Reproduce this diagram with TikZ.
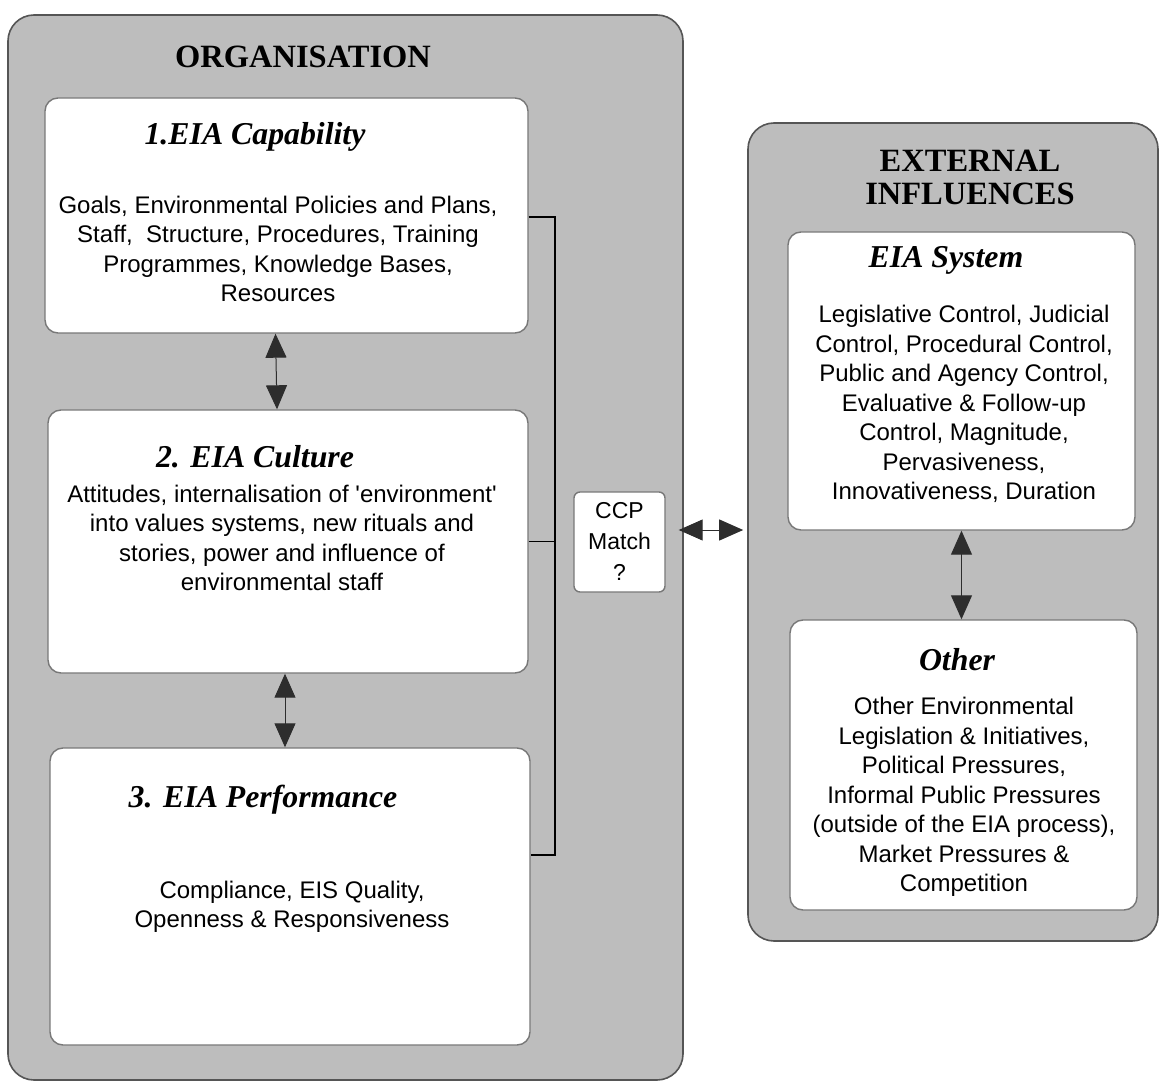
\documentclass[tikz,border=0pt]{standalone}
\usepackage{fontspec}
\setmainfont{Liberation Serif}
\setsansfont{Liberation Sans}
\usetikzlibrary{arrows.meta,calc}
\definecolor{panelfill}{RGB}{189,189,189}
\definecolor{paneledge}{RGB}{85,85,85}
\definecolor{boxedge}{RGB}{120,120,120}
\definecolor{headfill}{RGB}{45,45,45}
\begin{document}
\begin{tikzpicture}[x=1pt,y=-1pt,
  panel/.style={draw=paneledge,fill=panelfill,line width=1.6pt,rounded corners=26pt,
    inner sep=0pt,minimum width=#1},
  whitebox/.style={draw=boxedge,fill=white,line width=1.4pt,rounded corners=13pt,inner sep=0pt},
  paneltitle/.style={font=\bfseries\fontsize{32.5}{33}\selectfont,align=center,inner sep=0pt},
  boxtitle/.style={font=\bfseries\itshape\fontsize{31.8}{34}\selectfont,inner sep=0pt},
  body/.style={font=\sffamily\fontsize{24}{29.5}\selectfont,align=center,inner sep=0pt},
  biarrow/.style={line width=1pt,draw=headfill,
    {Triangle[width=21pt,length=24pt,fill=headfill]}-{Triangle[width=21pt,length=24pt,fill=headfill]}},
  bracket/.style={line width=1.4pt,draw=black}]
\useasboundingbox (0,0) rectangle (1160,1083);

% outer panels
\node[panel=675pt,minimum height=1065pt] (org) at (345.5,547.5) {};
\node[panel=410pt,minimum height=818pt] (ext) at (953,532) {};
\node[paneltitle] (orgT) at (303,57) {ORGANISATION};
\node[paneltitle] (extT) at (970,177) {EXTERNAL\\INFLUENCES};

% organisation boxes
\node[whitebox,minimum width=483pt,minimum height=235pt] (b1) at (286.5,215.5) {};
\node[whitebox,minimum width=480pt,minimum height=263pt] (b2) at (288,541.5) {};
\node[whitebox,minimum width=480pt,minimum height=297pt] (b3) at (290,896.5) {};

\node[boxtitle] (b1T) at (255,137) {1.EIA Capability};
\node[body] (b1B) at (278,249) {Goals, Environmental Policies and Plans,\\
  Staff,\ \ Structure, Procedures, Training\\Programmes, Knowledge Bases,\\Resources};

\node[boxtitle] (b2T) at (255,457) {2. EIA Culture};
\node[body] (b2B) at (282,538) {Attitudes, internalisation of \textquotesingle environment\textquotesingle\\
  into values systems, new rituals and\\stories, power and influence of\\environmental staff};

\node[boxtitle] (b3T) at (263,800) {3. EIA Performance};
\node[body] (b3B) at (292,907) {Compliance, EIS Quality,\\Openness \& Responsiveness};

% external influence boxes
\node[whitebox,minimum width=347pt,minimum height=298pt] (sys) at (961.5,381) {};
\node[whitebox,minimum width=347pt,minimum height=290pt] (oth) at (963.5,765) {};

\node[boxtitle] (sysT) at (946,260) {EIA System};
\node[body] (sysB) at (964,404) {Legislative Control, Judicial\\Control, Procedural Control,\\
  Public and Agency Control,\\Evaluative \& Follow-up\\Control, Magnitude,\\
  Pervasiveness,\\Innovativeness, Duration};

\node[boxtitle] (othT) at (957,660) {Other};
\node[body] (othB) at (964,797) {Other Environmental\\Legislation \& Initiatives,\\
  Political Pressures,\\Informal Public Pressures\\(outside of the EIA process),\\
  Market Pressures \&\\Competition};

% match box
\node[whitebox,rounded corners=6pt,minimum width=91pt,minimum height=100pt] (ccp) at (619.5,542) {};
\node[body,font=\sffamily\fontsize{23}{31}\selectfont] (ccpT) at (619.5,541) {CCP\\Match\\?};

% bracket joining the three organisation boxes
\coordinate (bt) at (555,217);
\coordinate (bb) at (555,855);
\draw[bracket] ([yshift=-1.5pt]b1.east) -- (bt) -- (bb) -- (b3.east |- bb);
\draw[bracket] (b2.east) -- (b2.east -| bt);

% two-way links
\draw[biarrow] ([xshift=-11pt]b1.south) -- ([xshift=-11pt]b2.north);
\draw[biarrow] ([xshift=-3pt]b2.south) -- ([xshift=-5pt]b3.north);
\draw[biarrow] (sys.south) -- (sys.south |- oth.north);
\coordinate (ca) at ([xshift=13pt,yshift=12pt]ccp.east);
\draw[biarrow,shorten >=4pt] (ca) -- (ca -| ext.west);
\end{tikzpicture}
\end{document}
